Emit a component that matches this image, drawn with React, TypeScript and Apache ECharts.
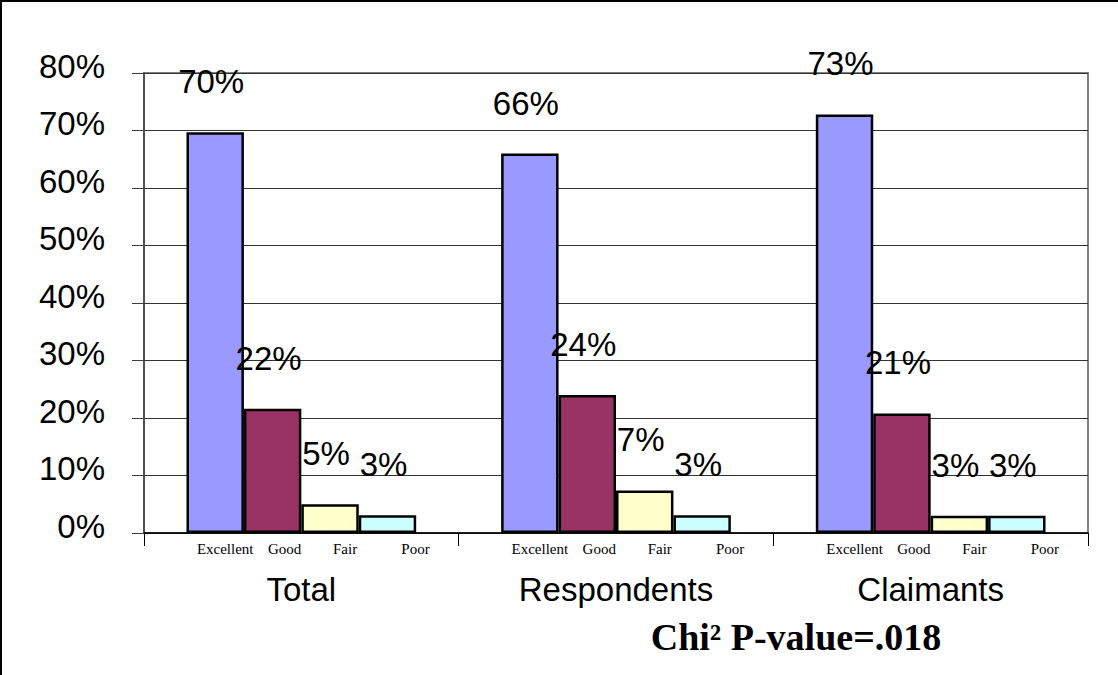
import React, { useEffect, useRef } from "react";
import * as echarts from "echarts";

const categories = ["Total", "Respondents", "Claimants"];
const ratings = ["Excellent", "Good", "Fair", "Poor"];
const excellent = [69.7, 66.0, 72.8];
const good = [21.6, 24.0, 20.8];
const fair = [5.0, 7.4, 3.0];
const poor = [3.1, 3.1, 3.0];
const yMin = 0;
const yMax = 80;
const yInterval = 10;
const footnote = "Chi² P-value=.018";

const ratingValues = [excellent, good, fair, poor];
const ratingColors = ["#9999FF", "#993366", "#FFFFCC", "#CCFFFF"];
const nameOffsets = [10, 12, 15, 28];

const SANS = "'Liberation Sans', Arial, sans-serif";
const SERIF = "'Liberation Serif', 'Times New Roman', serif";

export default function App() {
  const ref = useRef<HTMLDivElement>(null);
  useEffect(() => {
    if (!ref.current) return;
    const chart = echarts.init(ref.current, null, { renderer: "svg" });
    const series: any[] = [];
    ratings.forEach((name, i) => {
      // ghost bar to carry the rating name under each bar
      series.push({
        type: "bar",
        name: name + "-label",
        stack: "s" + i,
        data: categories.map(() => 0),
        barGap: "0%",
        barCategoryGap: "27%",
        itemStyle: { color: "rgba(0,0,0,0)", borderWidth: 0 },
        label: {
          show: true,
          position: "bottom",
          distance: 8,
          offset: [nameOffsets[i], 0],
          formatter: () => name,
          fontFamily: SERIF,
          fontSize: 15,
          color: "#000",
        },
        silent: true,
      });
      series.push({
        type: "bar",
        name,
        stack: "s" + i,
        data: ratingValues[i],
        barGap: "0%",
        barCategoryGap: "27%",
        itemStyle: { color: ratingColors[i], borderColor: "#000", borderWidth: 2.5 },
        label: {
          show: true,
          position: "top",
          distance: 34,
          offset: [-4, 0],
          formatter: (p: any) => Math.round(p.value) + "%",
          fontFamily: SANS,
          fontSize: 33,
          color: "#000",
        },
      });
    });
    chart.setOption({
      animation: false,
      backgroundColor: "#fff",
      grid: {
        left: 144,
        right: 30,
        top: 73,
        bottom: 142,
        show: true,
        borderColor: "#808080",
        borderWidth: 2,
        backgroundColor: "rgba(0,0,0,0)",
      },
      xAxis: {
        type: "category",
        data: categories,
        axisLine: { show: true, lineStyle: { color: "#000", width: 1.5 } },
        axisTick: { show: true, length: 13, lineStyle: { color: "#000", width: 1 } },
        axisLabel: { fontFamily: SANS, fontSize: 33, color: "#000", margin: 40 },
      },
      yAxis: {
        type: "value",
        min: yMin,
        max: yMax,
        interval: yInterval,
        axisLine: { show: true, lineStyle: { color: "#404040", width: 1.5 } },
        axisTick: { show: true, length: 12, lineStyle: { color: "#404040", width: 1 } },
        axisLabel: {
          formatter: "{value}%",
          fontFamily: SANS,
          fontSize: 33,
          color: "#000",
          margin: 39,
          verticalAlign: "bottom",
          lineHeight: 14,
        },
        splitLine: { show: true, lineStyle: { color: "#333", width: 1 } },
      },
      series,
      graphic: [
        { type: "line", shape: { x1: 0, y1: 1, x2: 1118, y2: 1 }, style: { stroke: "#000", lineWidth: 2 } },
        { type: "line", shape: { x1: 1, y1: 0, x2: 1, y2: 675 }, style: { stroke: "#000", lineWidth: 2 } },
        {
          type: "text",
          x: 796,
          y: 637,
          style: {
            text: footnote,
            font: "bold 38px " + SERIF,
            fill: "#000",
            textAlign: "center",
            textVerticalAlign: "middle",
          },
        },
      ],
    });
    return () => chart.dispose();
  }, []);
  return (
    <div
      ref={ref}
      style={{ position: "fixed", left: 0, top: 0, width: 1118, height: 675, background: "#fff" }}
    />
  );
}
